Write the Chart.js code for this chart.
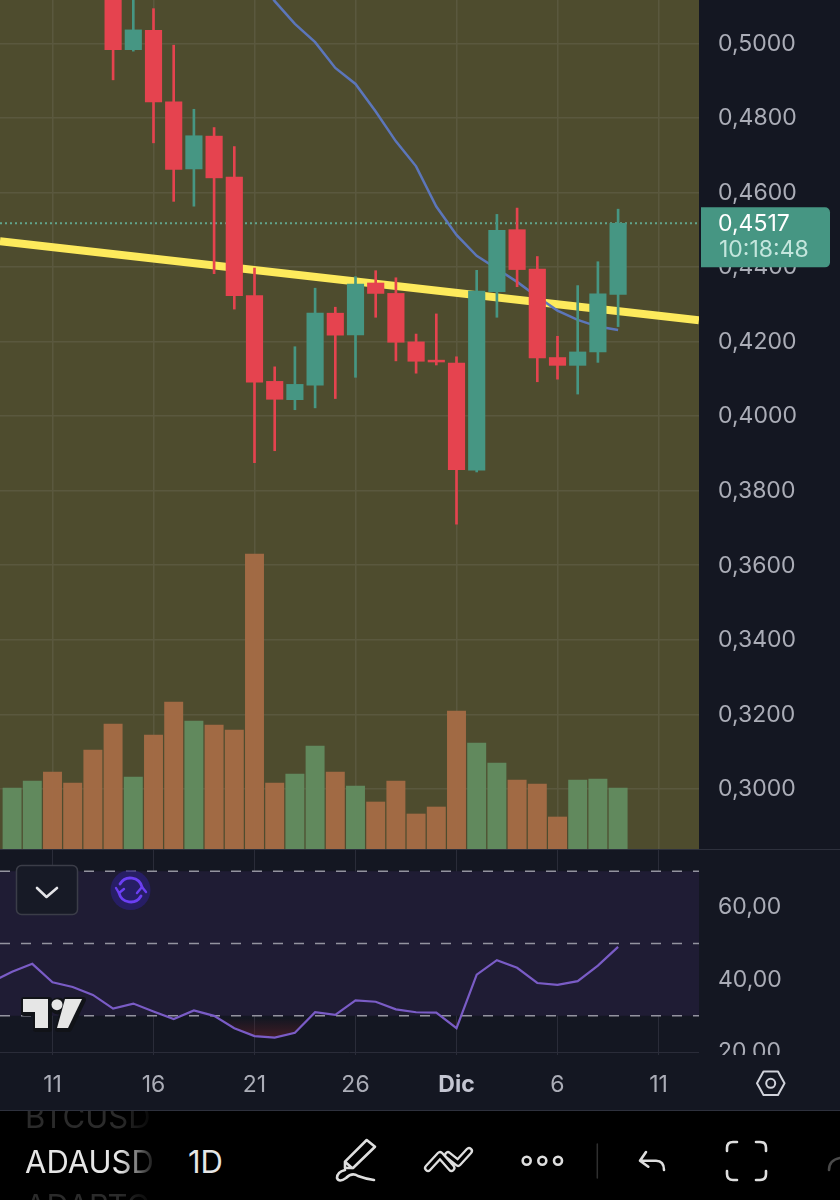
<!DOCTYPE html>
<html>
<head>
<meta charset="utf-8">
<title>ADAUSD 1D</title>
<script src="https://cdn.jsdelivr.net/npm/chart.js@4"></script>
<style>
  html, body { margin: 0; background: #000; }
  #page { position: relative; width: 840px; height: 1200px; overflow: hidden; background: #141722; font-family: Inter, sans-serif; }
  canvas { position: absolute; left: 0; display: block; }
  #priceCanvas { top: 0; }
  #rsiCanvas { top: 850px; }
  #overlay { position: absolute; left: 0; top: 0; pointer-events: none; }
  .rule { position: absolute; left: 0; width: 840px; height: 1px; background: #2e313d; }
  #toolbar { position: absolute; left: 0; top: 1111px; width: 840px; height: 89px; background: #000; overflow: hidden; }
  #toolbar span { position: absolute; font-size: 31px; line-height: 36px; white-space: nowrap; }
  .fade { width: 132px; overflow: hidden; -webkit-mask-image: linear-gradient(90deg, #000 72%, transparent 100%); mask-image: linear-gradient(90deg, #000 72%, transparent 100%); }
</style>
</head>
<body>
<div id="page">
  <canvas id="priceCanvas" width="840" height="849"></canvas>
  <div class="rule" style="top:849px"></div>
  <canvas id="rsiCanvas" width="840" height="260"></canvas>
  <div class="rule" style="top:1110px"></div>
  <div id="toolbar">
    <span class="fade" style="left:25px;top:-12px;color:#2b2b2b">BTCUSD</span>
    <span class="fade" style="left:25px;top:33px;color:#e6e6e6">ADAUSD</span>
    <span style="left:188px;top:33px;color:#e6e6e6">1D</span>
    <span class="fade" style="left:25px;top:77px;color:#2b2b2b">ADABTC</span>
  </div>
  <svg id="overlay" width="840" height="1200" fill="none" stroke-linecap="round" stroke-linejoin="round">
    <!-- collapse button -->
    <rect x="16.5" y="865.5" width="61" height="49" rx="5" fill="#171a26" stroke="#3b3d48" stroke-width="1.5"/>
    <polyline points="37,888 46.5,897 57,888" stroke="#e4e4e8" stroke-width="2.6"/>
    <!-- refresh -->
    <circle cx="130.5" cy="890" r="20" fill="#2b1f7a" opacity="0.7"/>
    <path d="M119 893 A12 12 0 0 0 141 896 M142 887 A12 12 0 0 0 120 884" stroke="#6b3ff2" stroke-width="2.8"/>
    <path d="M116 888 L119 893 L124 889 M137 893 L142 887 L146 892" stroke="#6b3ff2" stroke-width="2.4"/>
    <!-- TV logo -->
    <g stroke="#111318" stroke-width="6" fill="#111318">
      <polygon points="24,1000 49,1000 49,1029 36,1029 36,1013 24,1013"/>
      <circle cx="58" cy="1006" r="5.5"/>
      <polygon points="66,1000 83,1000 69,1029 58,1029"/>
    </g>
    <g fill="#e6e6e6">
      <polygon points="23,999 48,999 48,1028 35,1028 35,1012 23,1012"/>
      <circle cx="57" cy="1004.7" r="5.5"/>
      <polygon points="65,999 82,999 68,1028 57,1028"/>
    </g>
    <!-- settings -->
    <polygon points="757,1083.3 763.5,1071.5 778,1071.5 784.5,1083.3 778,1095 763.5,1095" stroke="#d0d2da" stroke-width="2"/>
    <circle cx="770.7" cy="1083.3" r="4.5" stroke="#d0d2da" stroke-width="2"/>
    <!-- bottom tools -->
    <g stroke="#dedede" stroke-width="2.6">
      <path d="M366.7 1140 L375 1146.7 L353 1168 L345 1168 L345 1161.7 Z M345 1161.7 L352 1168"/>
      <path d="M345 1170 Q337 1172 337 1178 Q339 1183 346 1178 Q352 1172 358 1176 Q366 1179 374 1180"/>
      <circle cx="526.7" cy="1160.7" r="4"/>
      <circle cx="542.3" cy="1160.7" r="4"/>
      <circle cx="558" cy="1160.7" r="4"/>
      <path d="M646 1152 L640 1160.7 L648.3 1166.7 M640 1160.7 H656 Q664 1160.7 664 1170"/>
      <path d="M727 1151 V1148 Q727 1142 733 1142 H737 M756 1142 H760 Q766 1142 766 1148 V1151 M727 1171 V1174 Q727 1180 733 1180 H737 M756 1180 H760 Q766 1180 766 1174 V1171"/>
    </g>
    <g stroke="#dedede" stroke-width="8"><path d="M428 1168 L440 1155 L451.5 1168 M448 1155 L458 1163 L469 1151"/></g>
    <g stroke="#000" stroke-width="3.4"><path d="M428 1168 L440 1155 L451.5 1168 M448 1155 L458 1163 L469 1151"/></g>
    <line x1="597.3" y1="1144" x2="597.3" y2="1178" stroke="#2f2f2f" stroke-width="1.5"/>
    <path d="M829 1170 Q829 1160 840 1158" stroke="#4a4a4a" stroke-width="2.6"/>
  </svg>
</div>

<script>
// day number on the time axis, 31 = 1 Dic
const candleDays = [14, 15, 16, 17, 18, 19, 20, 21, 22, 23, 24, 25, 26, 27, 28, 29, 30, 31, 32, 33, 34, 35, 36, 37, 38, 39];
const opens = [0.5130, 0.4983, 0.5035, 0.4843, 0.4663, 0.4751, 0.4641, 0.4323, 0.4093, 0.4044, 0.4083, 0.4276, 0.4218, 0.4357, 0.4329, 0.4199, 0.4150, 0.4142, 0.3855, 0.4334, 0.4500, 0.4394, 0.4157, 0.4136, 0.4172, 0.4326];
const closes = [0.4983, 0.5036, 0.4843, 0.4662, 0.4752, 0.4639, 0.4323, 0.4091, 0.4045, 0.4085, 0.4276, 0.4217, 0.4354, 0.4329, 0.4198, 0.4147, 0.4145, 0.3856, 0.4335, 0.4498, 0.4393, 0.4156, 0.4136, 0.4172, 0.4328, 0.4517];
const highs = [0.5143, 0.5150, 0.5093, 0.4995, 0.4823, 0.4774, 0.4723, 0.4397, 0.4132, 0.4186, 0.4343, 0.4292, 0.4374, 0.4390, 0.4371, 0.4220, 0.4274, 0.4159, 0.4391, 0.4541, 0.4558, 0.4428, 0.4214, 0.4350, 0.4414, 0.4555];
const lows = [0.4902, 0.4979, 0.4733, 0.4576, 0.4563, 0.4382, 0.4287, 0.3875, 0.3907, 0.4017, 0.4022, 0.4047, 0.4104, 0.4265, 0.4148, 0.4115, 0.4137, 0.3710, 0.3850, 0.4265, 0.4347, 0.4092, 0.4099, 0.4059, 0.4144, 0.4240];

const volumeDays = [9, 10, 11, 12, 13, 14, 15, 16, 17, 18, 19, 20, 21, 22, 23, 24, 25, 26, 27, 28, 29, 30, 31, 32, 33, 34, 35, 36, 37, 38, 39];
const volumes = [61, 68, 77, 66, 99, 125, 72, 114, 147, 128, 124, 119, 295, 66, 75, 103, 77, 63, 47, 68, 35, 42, 138, 106, 86, 69, 65, 32, 69, 70, 61];
const volumeUp = [1, 1, 0, 0, 0, 0, 1, 0, 0, 1, 0, 0, 0, 0, 1, 1, 0, 1, 0, 0, 0, 0, 0, 1, 1, 0, 0, 0, 1, 1, 1];

const emaDays = [21, 22, 23, 24, 25, 26, 27, 28, 29, 30, 31, 32, 33, 34, 35, 36, 37, 38, 39];
const emaValues = [0.5191, 0.5113, 0.5052, 0.5003, 0.4934, 0.4891, 0.4817, 0.4737, 0.4670, 0.4562, 0.4486, 0.4430, 0.4395, 0.4360, 0.4320, 0.4283, 0.4258, 0.4240, 0.4231];

const trendDays = [8.4, 43];
const trendValues = [0.44690, 0.42570];
const lastPrice = 0.4517;
const lastPriceLabel = "0,4517";
const countdownLabel = "10:18:48";

const rsiDays = [8, 9, 10, 11, 12, 13, 14, 15, 16, 17, 18, 19, 20, 21, 22, 23, 24, 25, 26, 27, 28, 29, 30, 31, 32, 33, 34, 35, 36, 37, 38, 39];
const rsiValues = [39.4, 42.2, 44.4, 39.3, 38.0, 35.8, 32.0, 33.4, 31.2, 29.1, 31.5, 30.0, 26.6, 24.4, 24.0, 25.3, 31.0, 30.3, 34.3, 33.9, 31.8, 31.0, 30.9, 26.6, 41.4, 45.4, 43.3, 39.1, 38.6, 39.6, 43.9, 49.1];
const rsiLevels = [70, 50, 30];

const tickDays = [11, 16, 21, 26, 31, 36, 41];
const tickLabels = ["11", "16", "21", "26", "Dic", "6", "11"];
const priceTicks = [0.50, 0.48, 0.46, 0.44, 0.42, 0.40, 0.38, 0.36, 0.34, 0.32, 0.30];
const rsiTicks = [60, 40, 20];

const dayRange = [8.401, 43.005];
const priceRange = [0.28385, 0.51162];
const rsiRange = [19.17, 75.9];

const UP = "#469683";
const DOWN = "#e5434f";
const LABEL = "#abadb7";
const FONT = "Inter, sans-serif";

const comma = (digits) => (v) => v.toFixed(digits).replace(".", ",");

// fixed side gutter so both panes line up, and no inset for the tick labels
const gutter = (scale) => {
    scale.width = 141;
    scale.paddingTop = 0;
    scale.paddingBottom = 0;
};

function timeAxis(labelled) {
    return {
        type: "linear",
        min: dayRange[0],
        max: dayRange[1],
        bounds: "data",
        offset: false,
        afterBuildTicks(scale) { scale.ticks = tickDays.map((value) => ({ value })); },
        afterFit(scale) { scale.height = labelled ? 55 : 0; },
        border: { display: false },
        grid: { offset: false, color: labelled ? "#2a2c39" : "#5a583e", lineWidth: labelled ? 1 : 1.5, drawTicks: false },
        ticks: {
            display: labelled,
            autoSkip: false,
            maxRotation: 0,
            padding: 16,
            color: (ctx) => (ctx.tick && ctx.tick.value === 31 ? "#c4c6d2" : LABEL),
            font: (ctx) => ({ family: FONT, size: 23, weight: ctx.tick && ctx.tick.value === 31 ? "bold" : "normal" }),
            callback: (value) => tickLabels[tickDays.indexOf(value)],
        },
    };
}

const plotBackground = {
    id: "plotBackground",
    beforeDraw(chart) {
        const { ctx, chartArea: a } = chart;
        ctx.fillStyle = "#4e4c2e";
        ctx.fillRect(a.left, a.top, a.right - a.left, a.bottom - a.top);
    },
};

const priceBadge = {
    id: "priceBadge",
    afterDraw(chart) {
        const { ctx, scales } = chart;
        const top = scales.y.getPixelForValue(lastPrice) - 16;
        ctx.save();
        ctx.fillStyle = UP;
        ctx.beginPath();
        ctx.roundRect(701, top, 129, 60, [0, 5, 5, 0]);
        ctx.fill();
        ctx.textBaseline = "middle";
        ctx.font = "23px " + FONT;
        ctx.fillStyle = "#ffffff";
        ctx.fillText(lastPriceLabel, 718, top + 17);
        ctx.fillStyle = "#c4e6dd";
        ctx.fillText(countdownLabel, 719, top + 43);
        ctx.restore();
    },
};

new Chart(document.getElementById("priceCanvas"), {
    data: {
        datasets: [
            {
                type: "bar",
                order: 0,
                grouped: false,
                barThickness: 16.5,
                xAxisID: "x",
                yAxisID: "y",
                data: candleDays.map((d, i) => ({ x: d, y: [opens[i], closes[i]] })),
                backgroundColor: candleDays.map((d, i) => (closes[i] >= opens[i] ? UP : DOWN)),
            },
            {
                type: "bar",
                order: 1,
                grouped: false,
                barThickness: 2,
                xAxisID: "x",
                yAxisID: "y",
                data: candleDays.map((d, i) => ({ x: d, y: [lows[i], highs[i]] })),
                backgroundColor: candleDays.map((d, i) => (closes[i] >= opens[i] ? UP : DOWN)),
            },
            {
                type: "line",
                order: 2,
                data: emaDays.map((d, i) => ({ x: d, y: emaValues[i] })),
                borderColor: "#5c76ba",
                borderWidth: 2.5,
                pointRadius: 0,
            },
            {
                type: "line",
                order: 3,
                data: trendDays.map((d, i) => ({ x: d, y: trendValues[i] })),
                borderColor: "#fdea5c",
                borderWidth: 8,
                pointRadius: 0,
            },
            {
                type: "line",
                order: 4,
                data: dayRange.map((d) => ({ x: d, y: lastPrice })),
                borderColor: "#62a58c",
                borderWidth: 2,
                borderDash: [2, 3],
                pointRadius: 0,
            },
            {
                type: "bar",
                order: 5,
                grouped: false,
                barThickness: 18.3,
                xAxisID: "x",
                yAxisID: "yVolume",
                data: volumeDays.map((d, i) => ({ x: d, y: volumes[i] })),
                backgroundColor: volumeUp.map((up) => (up ? "rgba(98,140,96,0.95)" : "rgba(165,108,70,0.95)")),
            },
        ],
    },
    options: {
        responsive: false,
        animation: false,
        layout: { autoPadding: false, padding: 0 },
        plugins: { legend: { display: false }, tooltip: { enabled: false } },
        scales: {
            x: timeAxis(false),
            y: {
                position: "right",
                min: priceRange[0],
                max: priceRange[1],
                bounds: "data",
                afterBuildTicks(scale) { scale.ticks = priceTicks.map((value) => ({ value })); },
                afterFit: gutter,
                border: { display: false },
                grid: { color: "#5a583e", lineWidth: 1.5, drawTicks: false },
                ticks: {
                    autoSkip: false,
                    padding: 19,
                    labelOffset: 0.5,
                    color: LABEL,
                    font: { family: FONT, size: 23 },
                    callback: comma(4),
                },
            },
            yVolume: { display: false, min: 0, max: 849, bounds: "data" },
        },
    },
    plugins: [plotBackground, priceBadge],
});

const rsiCanvas = document.getElementById("rsiCanvas");

// faint red where the RSI dips under the 30 level
const oversold = rsiCanvas.getContext("2d").createLinearGradient(0, 168, 0, 188);
oversold.addColorStop(0, "rgba(110,35,40,0)");
oversold.addColorStop(1, "rgba(110,35,40,0.5)");

// the pane cuts off the lowest price label
const axisCut = {
    id: "axisCut",
    afterDraw(chart) {
        const { ctx, chartArea: a, width, height } = chart;
        ctx.fillStyle = "#141722";
        ctx.fillRect(a.right, a.bottom, width - a.right, height - a.bottom);
    },
};

const levelStyle = { type: "line", borderColor: "#93939f", borderWidth: 1.5, borderDash: [10, 11], pointRadius: 0 };

new Chart(rsiCanvas, {
    data: {
        datasets: [
            {
                type: "line",
                order: 0,
                data: rsiDays.map((d, i) => ({ x: d, y: rsiValues[i] })),
                borderColor: "#7a5cc6",
                borderWidth: 2.2,
                pointRadius: 0,
                fill: { target: { value: 30 }, above: "rgba(0,0,0,0)", below: oversold },
            },
            ...rsiLevels.map((level, i) => ({
                ...levelStyle,
                // the top level carries the band down to 30, so it goes underneath
                order: i === 0 ? 2 : 1,
                data: dayRange.map((d) => ({ x: d, y: level })),
                ...(i === 0 ? { fill: { target: { value: rsiLevels[2] }, below: "#1f1c34", above: "#1f1c34" } } : {}),
            })),
        ],
    },
    options: {
        responsive: false,
        animation: false,
        layout: { autoPadding: false, padding: 0 },
        plugins: { legend: { display: false }, tooltip: { enabled: false } },
        scales: {
            x: timeAxis(true),
            y: {
                position: "right",
                min: rsiRange[0],
                max: rsiRange[1],
                bounds: "data",
                afterBuildTicks(scale) { scale.ticks = rsiTicks.map((value) => ({ value })); },
                afterFit: gutter,
                border: { display: false },
                grid: { color: "#2a2c39", drawTicks: false },
                ticks: {
                    autoSkip: false,
                    padding: 19,
                    labelOffset: 0,
                    color: LABEL,
                    font: { family: FONT, size: 23 },
                    callback: comma(2),
                },
            },
        },
    },
    plugins: [axisCut],
});
</script>
</body>
</html>
